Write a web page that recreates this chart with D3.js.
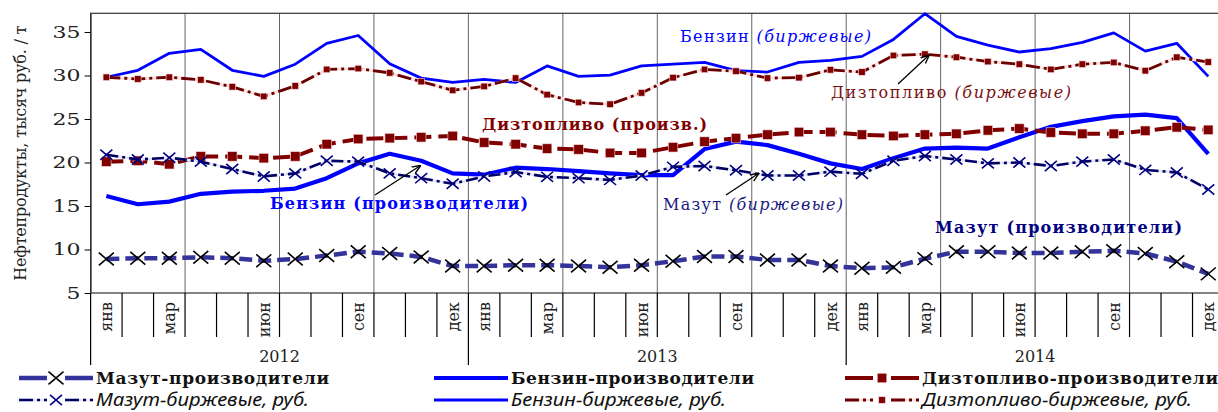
<!DOCTYPE html>
<html>
<head>
<meta charset="utf-8">
<script src="https://cdnjs.cloudflare.com/ajax/libs/d3/7.8.5/d3.min.js"></script>
<style>
    body { margin: 0; background: #fff; }
    svg { display: block; font-family: "DejaVu Serif", serif; }
</style>
</head>
<body>
<div id="chart"></div>
<script>
// categories
var years = ["2012", "2013", "2014"];
var months = ["янв", "фев", "мар", "апр", "май", "июн", "июл", "авг", "сен", "окт", "ноя", "дек"];
var labeledMonths = ["янв", "мар", "июн", "сен", "дек"];
var yTicks = [5, 10, 15, 20, 25, 30, 35];

// тысяч руб. / т, by month 2012-2014
var mazutProd = [8.9, 9.0, 9.0, 9.1, 9.0, 8.7, 8.9, 9.3, 9.75, 9.55, 9.15, 8.1,
    8.1, 8.2, 8.2, 8.1, 7.95, 8.2, 8.65, 9.2, 9.2, 8.8, 8.8, 8.1,
    7.85, 7.95, 8.95, 9.75, 9.75, 9.6, 9.6, 9.75, 9.85, 9.55, 8.6, 7.2];
var benzinProd = [16.15, 15.2, 15.5, 16.4, 16.65, 16.75, 17.0, 18.2, 19.9, 21.0, 20.2, 18.75,
    18.6, 19.4, 19.25, 19.0, 18.75, 18.55, 18.55, 21.55, 22.4, 22.0, 21.0, 19.9,
    19.25, 20.5, 21.6, 21.7, 21.6, 22.9, 24.1, 24.75, 25.3, 25.5, 25.1, 21.0];
var dizelProd = [20.1, 20.2, 19.8, 20.7, 20.7, 20.5, 20.7, 22.1, 22.7, 22.8, 22.9, 23.05,
    22.3, 22.1, 21.6, 21.5, 21.1, 21.1, 21.75, 22.4, 22.8, 23.2, 23.5, 23.5,
    23.2, 23.05, 23.2, 23.3, 23.7, 23.9, 23.45, 23.3, 23.3, 23.65, 24.05, 23.75];
var mazutBirzh = [20.9, 20.35, 20.55, 20.1, 19.25, 18.4, 18.75, 20.2, 20.1, 18.75, 18.2, 17.55,
    18.4, 18.9, 18.35, 18.2, 18.0, 18.5, 19.5, 19.6, 19.1, 18.5, 18.5, 18.95,
    18.7, 20.2, 20.75, 20.35, 19.9, 20.0, 19.6, 20.1, 20.35, 19.15, 18.85, 16.9];
var benzinBirzh = [29.8, 30.6, 32.55, 33.0, 30.6, 29.9, 31.3, 33.7, 34.6, 31.35, 29.7, 29.2,
    29.55, 29.2, 31.1, 29.9, 30.05, 31.1, 31.3, 31.5, 30.55, 30.4, 31.5, 31.75,
    32.2, 34.15, 37.1, 34.5, 33.5, 32.7, 33.1, 33.8, 34.9, 32.8, 33.7, 29.9];
var dizelBirzh = [29.8, 29.6, 29.8, 29.5, 28.7, 27.6, 28.8, 30.7, 30.8, 30.3, 29.3, 28.3,
    28.75, 29.7, 27.8, 26.9, 26.7, 28.0, 29.75, 30.7, 30.5, 29.7, 29.75, 30.65,
    30.4, 32.3, 32.45, 32.1, 31.6, 31.3, 30.7, 31.3, 31.5, 30.55, 32.1, 31.55];

var width = 1218,
    height = 412,
    plotLeft = 90.6,
    plotRight = 1224,   // plot runs a little past the picture edge
    plotTop = 13.3,
    plotBottom = 293;

var keys = [];
years.forEach(function (yr) {
    months.forEach(function (m) { keys.push(yr + "-" + m); });
});

var x = d3.scaleBand().domain(keys).range([plotLeft, plotRight]);
var y = d3.scaleLinear().domain([5, 37.15]).range([plotBottom, plotTop]);
var cx = function (i) { return x(keys[i]) + x.bandwidth() / 2; };

var svg = d3.select("#chart").append("svg")
    .attr("width", width)
    .attr("height", height);

var defs = svg.append("defs");
defs.append("marker")
    .attr("id", "arrow")
    .attr("viewBox", "0 0 10 10")
    .attr("refX", 9).attr("refY", 5)
    .attr("markerWidth", 7).attr("markerHeight", 7)
    .attr("orient", "auto")
    .append("path")
    .attr("d", "M0,1L10,5L0,9")
    .attr("fill", "none")
    .attr("stroke", "#000")
    .attr("stroke-width", 1.5);

// quarter grid
var quarters = d3.range(1, 12).map(function (q) { return x(keys[q * 3]); });
svg.append("g").selectAll("line")
    .data(quarters)
    .enter().append("line")
    .attr("x1", d => d).attr("x2", d => d)
    .attr("y1", plotTop).attr("y2", plotBottom)
    .attr("stroke", "#666")
    .attr("stroke-width", 1);

// frame
svg.append("rect")
    .attr("x", plotLeft).attr("y", plotTop)
    .attr("width", plotRight - plotLeft).attr("height", plotBottom - plotTop)
    .attr("fill", "none")
    .attr("stroke", "#333")
    .attr("stroke-width", 1.2);

// y axis
var yAxis = svg.append("g")
    .attr("transform", "translate(" + plotLeft + ",0)")
    .call(d3.axisLeft(y).tickValues(yTicks).tickSize(6).tickSizeOuter(0).tickPadding(4));
yAxis.select(".domain").attr("stroke", "#333");
yAxis.selectAll("text")
    .attr("font-family", "DejaVu Serif")
    .attr("font-size", 17)
    .attr("fill", "#222")
    .attr("lengthAdjust", "spacingAndGlyphs")
    .attr("textLength", d => d < 10 ? 14 : 28);

svg.append("text")
    .attr("transform", "translate(26," + (plotTop + plotBottom) / 2 + ") rotate(-90)")
    .attr("text-anchor", "middle")
    .attr("font-size", 16)
    .attr("fill", "#222")
    .attr("textLength", 255)
    .text("Нефтепродукты, тысяч руб. / т");

// category axis: month ticks, year dividers, labels
var bounds = d3.range(0, 37);
svg.append("g").selectAll("line")
    .data(bounds)
    .enter().append("line")
    .attr("x1", d => plotLeft + d * x.bandwidth())
    .attr("x2", d => plotLeft + d * x.bandwidth())
    .attr("y1", plotBottom)
    .attr("y2", d => d % 12 === 0 ? 365 : 337)
    .attr("stroke", "#000")
    .attr("stroke-width", 1.2);

svg.append("g").selectAll("text")
    .data(keys.filter(k => labeledMonths.indexOf(k.split("-")[1]) >= 0))
    .enter().append("text")
    .attr("transform", d => "translate(" + (x(d) + x.bandwidth() / 2) + ",302) rotate(-90)")
    .attr("text-anchor", "end")
    .attr("dy", "0.38em")
    .attr("font-size", 16)
    .attr("fill", "#222")
    .text(d => d.split("-")[1]);

svg.append("g").selectAll("text")
    .data(years)
    .enter().append("text")
    .attr("x", d => x(d + "-" + months[0]) + x.bandwidth() * 6)
    .attr("y", 362)
    .attr("text-anchor", "middle")
    .attr("font-size", 16)
    .attr("fill", "#222")
    .text(d => d);

// series, in legend order
var series = [
    { name: "Мазут-производители", values: mazutProd, color: "#333399", width: 4.5, dash: "13,6", marker: "x", mcolor: "#000", msize: 7.5, bold: true },
    { name: "Бензин-производители", values: benzinProd, color: "#0000ff", width: 4.2, dash: null, marker: null, bold: true },
    { name: "Дизтопливо-производители", values: dizelProd, color: "#800000", width: 4, dash: "17,7", marker: "sq", mcolor: "#800000", msize: 9.5, bold: true },
    { name: "Мазут-биржевые, руб.", values: mazutBirzh, color: "#000066", width: 2.6, dash: "12,4,3,4", halo: "#e4e4fa", marker: "x", mcolor: "#000080", msize: 6, bold: false },
    { name: "Бензин-биржевые, руб.", values: benzinBirzh, color: "#0000ff", width: 2.8, dash: null, marker: null, bold: false },
    { name: "Дизтопливо-биржевые, руб.", values: dizelBirzh, color: "#6b0000", width: 2.8, dash: "14,4,3,4", halo: "#ffdede", marker: "sq", mcolor: "#800000", msize: 6.5, bold: false }
];

var line = d3.line()
    .x(function (d, i) { return cx(i); })
    .y(function (d) { return y(d); });

function drawMarker(g, s, px, py) {
    if (s.marker === "x") {
        var r = s.msize;
        g.append("path")
            .attr("d", "M" + (px - r) + "," + (py - r * 0.85) + "L" + (px + r) + "," + (py + r * 0.85) +
                "M" + (px - r) + "," + (py + r * 0.85) + "L" + (px + r) + "," + (py - r * 0.85))
            .attr("stroke", s.mcolor)
            .attr("stroke-width", 1.6)
            .attr("fill", "none");
    } else if (s.marker === "sq") {
        g.append("rect")
            .attr("x", px - s.msize / 2).attr("y", py - s.msize / 2)
            .attr("width", s.msize).attr("height", s.msize)
            .attr("fill", s.mcolor)
            .attr("stroke", "#f3d6d6")
            .attr("stroke-width", 0.6);
    }
}

var plot = svg.append("g");
series.forEach(function (s) {
    var g = plot.append("g");
    if (s.halo) {
        g.append("path")
            .attr("d", line(s.values))
            .attr("fill", "none")
            .attr("stroke", s.halo)
            .attr("stroke-width", s.width);
    }
    g.append("path")
        .attr("d", line(s.values))
        .attr("fill", "none")
        .attr("stroke", s.color)
        .attr("stroke-width", s.width)
        .attr("stroke-linejoin", "round")
        .attr("stroke-dasharray", s.dash);
    s.values.forEach(function (v, i) { drawMarker(g, s, cx(i), y(v)); });
});

// annotations
var notes = [
    { x: 680, y: 42, w: 191, color: "#0000ff", size: 16, bold: false, main: "Бензин ", ital: "(биржевые)" },
    { x: 831, y: 98, w: 240, color: "#7a1010", size: 16, bold: false, main: "Дизтопливо ", ital: "(биржевые)" },
    { x: 482, y: 130, w: 225, color: "#800000", size: 16, bold: true, main: "Дизтопливо (произв.)", ital: "" },
    { x: 270, y: 209, w: 258, color: "#0000ff", size: 16, bold: true, main: "Бензин (производители)", ital: "" },
    { x: 663, y: 210, w: 180, color: "#1a1a80", size: 16, bold: false, main: "Мазут ", ital: "(биржевые)" },
    { x: 935, y: 233, w: 247, color: "#000080", size: 16, bold: true, main: "Мазут (производители)", ital: "" }
];
notes.forEach(function (n) {
    var t = svg.append("text")
        .attr("x", n.x).attr("y", n.y)
        .attr("font-size", n.size)
        .attr("font-weight", n.bold ? "bold" : "normal")
        .attr("fill", n.color)
        .attr("textLength", n.w);
    t.append("tspan").text(n.main);
    if (n.ital) t.append("tspan").attr("font-style", "italic").text(n.ital);
});

// arrows from labels to their lines
var arrows = [
    { from: [375, 195], series: benzinProd, i: 10, dx: -1, dy: 5 },
    { from: [726, 195], series: mazutBirzh, i: 21, dx: -9, dy: -2 },
    { from: [898, 84], series: dizelBirzh, i: 26, dx: 4, dy: 1 }
];
arrows.forEach(function (a) {
    svg.append("line")
        .attr("x1", a.from[0]).attr("y1", a.from[1])
        .attr("x2", cx(a.i) + a.dx).attr("y2", y(a.series[a.i]) + a.dy)
        .attr("stroke", "#000")
        .attr("stroke-width", 1.3)
        .attr("marker-end", "url(#arrow)");
});

// legend
var legendCols = [19, 434, 845];
var legendRows = [378, 400];
var legendText = [[233, 243, 296], [213, 215, 270]];
series.forEach(function (s, k) {
    var col = k % 3, row = Math.floor(k / 3);
    var x0 = legendCols[col], x1 = x0 + 74, ly = legendRows[row], mid = (x0 + x1) / 2;
    var g = svg.append("g");
    // sample line, broken around the marker
    var segs = s.marker ? [[x0, mid - 9], [mid + 9, x1]] : [[x0, x1]];
    segs.forEach(function (sg) {
        if (s.halo) {
            g.append("line").attr("x1", sg[0]).attr("x2", sg[1]).attr("y1", ly).attr("y2", ly)
                .attr("stroke", s.halo).attr("stroke-width", s.width);
        }
        g.append("line").attr("x1", sg[0]).attr("x2", sg[1]).attr("y1", ly).attr("y2", ly)
            .attr("stroke", s.color)
            .attr("stroke-width", s.width)
            .attr("stroke-dasharray", s.halo ? "14,4,3,4" : null);
    });
    drawMarker(g, s, mid, ly);
    svg.append("text")
        .attr("x", x1 + 3)
        .attr("y", ly + 6)
        .attr("font-family", s.bold ? "DejaVu Serif" : "Noto Sans")
        .attr("font-size", s.bold ? 17 : 17.5)
        .attr("font-weight", s.bold ? "bold" : "normal")
        .attr("font-style", s.bold ? "normal" : "italic")
        .attr("fill", "#111")
        .attr("lengthAdjust", s.bold ? "spacing" : "spacingAndGlyphs")
        .attr("textLength", legendText[row][col])
        .text(s.name);
});
</script>
</body>
</html>
